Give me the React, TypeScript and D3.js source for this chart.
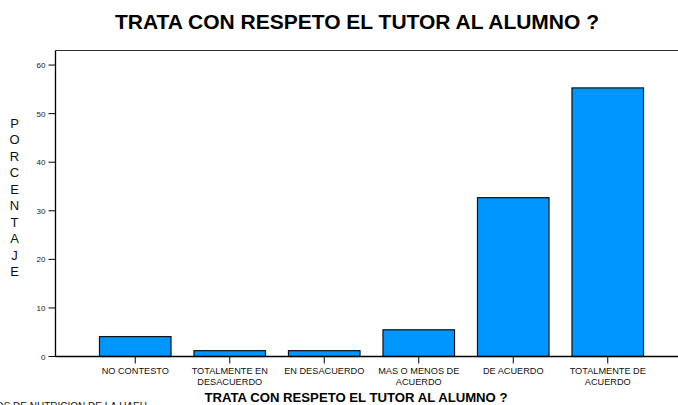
import React from "react";
import * as d3 from "d3";

const categories = [
  ["NO CONTESTO"],
  ["TOTALMENTE EN", "DESACUERDO"],
  ["EN DESACUERDO"],
  ["MAS O MENOS DE", "ACUERDO"],
  ["DE ACUERDO"],
  ["TOTALMENTE DE", "ACUERDO"],
];
const values = [4.1, 1.2, 1.2, 5.5, 32.7, 55.3];
const yTicks = [0, 10, 20, 30, 40, 50, 60];
const title = "TRATA CON RESPETO EL TUTOR AL ALUMNO ?";
const yLabel = "PORCENTAJE";
const source = "ALUMNOS DE NUTRICION DE LA UAEH";

const W = 678;
const H = 405;
const axisLeft = 55.5;
const axisTop = 50.5;
const axisBottom = 356.5;

export default function App() {
  const keys = categories.map((c) => c.join(" "));
  const x = d3
    .scaleBand<string>()
    .domain(keys)
    .range([88, 655])
    .paddingInner(0.243)
    .paddingOuter(0.1215);
  const y = d3.scaleLinear().domain([0, 63]).range([axisBottom, axisTop]);
  const font = "Arial, 'Liberation Sans', Helvetica, sans-serif";

  return (
    <svg
      width={W}
      height={H}
      style={{ position: "absolute", left: 0, top: 0, background: "#fff" }}
      fontFamily={font}
    >
      <rect x={0} y={0} width={W} height={H} fill="#fff" />
      <text
        x={357}
        y={29}
        textAnchor="middle"
        fontSize={20}
        fontWeight="bold"
        fill="#000"
        textLength={484}
        lengthAdjust="spacingAndGlyphs"
      >
        {title}
      </text>
      {/* frame */}
      <line x1={axisLeft} x2={W + 2} y1={axisTop} y2={axisTop} stroke="#333" strokeWidth={1} />
      <line x1={axisLeft} x2={axisLeft} y1={axisTop} y2={axisBottom} stroke="#000" strokeWidth={1.3} />
      {/* bars */}
      {values.map((v, i) => (
        <rect
          key={i}
          x={x(keys[i])!}
          y={y(v)}
          width={x.bandwidth()}
          height={axisBottom - y(v)}
          fill="#0096ff"
          stroke="#111"
          strokeWidth={1.2}
        />
      ))}
      <line x1={axisLeft} x2={W + 2} y1={axisBottom} y2={axisBottom} stroke="#000" strokeWidth={1.3} />
      {/* y ticks */}
      {yTicks.map((t) => (
        <g key={t}>
          <line x1={axisLeft - 7} x2={axisLeft} y1={y(t)} y2={y(t)} stroke="#000" strokeWidth={1} />
          <text x={axisLeft - 10} y={y(t) + 3} textAnchor="end" fontSize={8} fill="#222">
            {t}
          </text>
        </g>
      ))}
      {/* x ticks & labels */}
      {categories.map((c, i) => {
        const cx = x(keys[i])! + x.bandwidth() / 2;
        return (
          <g key={i}>
            <line x1={cx} x2={cx} y1={axisBottom} y2={axisBottom + 7} stroke="#000" strokeWidth={1} />
            {c.map((line, j) => (
              <text key={j} x={cx} y={374 + j * 10.7} textAnchor="middle" fontSize={9.2} fill="#111">
                {line}
              </text>
            ))}
          </g>
        );
      })}
      {/* y label stacked */}
      {yLabel.split("").map((ch, i) => (
        <text key={i} x={14.5} y={128 + i * 16.45} textAnchor="middle" fontSize={13} fill="#111">
          {ch}
        </text>
      ))}
      <text
        x={356}
        y={402}
        textAnchor="middle"
        fontSize={12.5}
        fontWeight="bold"
        fill="#000"
        textLength={303}
        lengthAdjust="spacingAndGlyphs"
      >
        {title}
      </text>
      <text x={147} y={410} textAnchor="end" fontSize={10} fill="#111">
        {source}
      </text>
    </svg>
  );
}
